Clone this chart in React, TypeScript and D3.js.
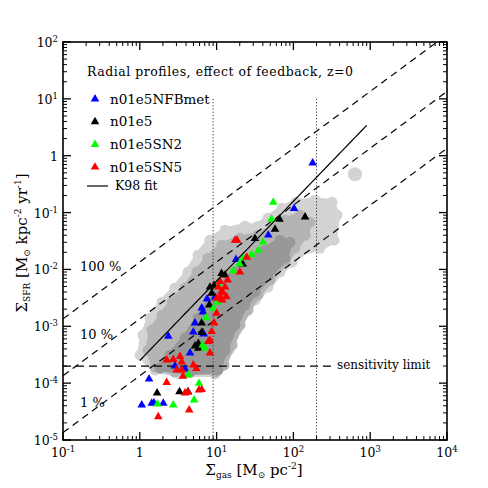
import React from 'react';
import * as d3 from 'd3';

const width = 488;
const height = 488;
const margin = { top: 42, right: 41, bottom: 48, left: 63 };
const font = '"DejaVu Serif", serif';

// axis decades
const xTickExps = [-1, 0, 1, 2, 3, 4];
const yTickExps = [-5, -4, -3, -2, -1, 0, 1, 2];

// [Σgas (Msun/pc^2), ΣSFR (Msun/kpc^2/yr)]
const nfbMet = [
  [178, 0.746], [102, 0.118], [47.1, 0.0401], [17.9, 0.015], [9.53, 0.00326],
  [7.5, 0.00301], [6.4, 0.00209], [6.65, 0.00178], [5.23, 0.00114], [4.97, 0.00079],
  [6.8, 0.00073], [2.35, 0.00067], [4.51, 0.000338], [2.87, 0.0002], [3.88, 0.000177],
  [1.32, 0.000118], [1.06, 0.0000412], [1.43, 0.0000442], [1.53, 0.000045], [2.02, 0.0000442],
];
const n01e5 = [
  [142, 0.0839], [65.9, 0.0766], [57.6, 0.051], [31.6, 0.0351], [21.9, 0.0124],
  [12.9, 0.00794], [11.6, 0.00851], [9.25, 0.0052], [8.2, 0.00489], [8.63, 0.0038],
  [8.04, 0.00236], [6.4, 0.00114], [6.4, 0.00078], [5.23, 0.000449], [5.78, 0.000409],
  [5.78, 0.0005], [1.68, 0.000067], [3.29, 0.0000705], [4.24, 0.000071],
];
const sn2 = [
  [54.7, 0.152], [51.9, 0.0766], [40.2, 0.0302], [34.9, 0.0215], [28.5, 0.0183],
  [22.3, 0.016], [19.8, 0.0126], [16.4, 0.00944], [10.8, 0.0051], [10.3, 0.00266],
  [9.06, 0.00205], [7.3, 0.00141], [7.06, 0.000409], [6.6, 0.00047], [4.28, 0.000139],
  [5.9, 0.000099], [5.1, 0.0000504], [2.73, 0.0000412], [1.7, 0.000043],
];
const sn5 = [
  [17.4, 0.0327], [18.5, 0.0327], [24.7, 0.0164], [20.1, 0.009], [13.9, 0.00649],
  [11.1, 0.0061], [11.6, 0.0041], [12.9, 0.00489], [10.5, 0.00489], [10.0, 0.0031],
  [13.4, 0.0033], [12.1, 0.0039], [11.1, 0.0033], [11.8, 0.0029], [10, 0.0017],
  [9.3, 0.00114], [8.63, 0.000805], [8.2, 0.000565], [7.8, 0.00054], [8.2, 0.00034],
  [2.24, 0.000255], [2.73, 0.00026], [3.34, 0.000294], [3.51, 0.000235], [4.97, 0.000208],
  [5.45, 0.00018], [3.51, 0.00017], [3.02, 0.00017], [3.65, 0.000132], [2.24, 0.000103],
  [3.88, 0.000067], [4.24, 0.000069], [5.9, 0.0000757], [6.4, 0.000077], [4.4, 0.0000337],
  [1.74, 0.0000256],
];

// observed gas distribution, three density levels (outer to inner)
const cloudLight = [
  [1.01, 3.1e-4], [1.1, 7.0e-4], [1.36, 1.39e-3], [1.95, 2.66e-3], [2.87, 4.7e-3],
  [4.24, 9.0e-3], [5.73, 0.0178], [8.2, 0.0327], [12.9, 0.0491], [23.4, 0.0577],
  [34.6, 0.0577], [46.7, 0.0798], [71, 0.119], [108, 0.152], [191, 0.165],
  [318, 0.152], [370, 0.09], [338, 0.0327], [222, 0.0237], [122, 0.0201],
  [96, 0.0134], [67, 0.009], [46.7, 0.0049], [31.6, 0.00289], [23.4, 0.00178],
  [18.4, 8.6e-4], [14.5, 3.8e-4], [11.7, 2.0e-4], [9.5, 1.45e-4], [3.34, 1.45e-4],
  [1.58, 1.7e-4],
];
const cloudMid = [
  [1.28, 3.8e-4], [1.44, 8.6e-4], [1.95, 1.57e-3], [2.63, 2.66e-3], [3.88, 4.7e-3],
  [5.56, 9.0e-3], [7.73, 0.0158], [11.7, 0.0267], [20.2, 0.0355], [34.6, 0.0401],
  [52.6, 0.0532], [78, 0.0735], [122, 0.09], [164, 0.0678], [142, 0.0401],
  [105, 0.0237], [78, 0.0134], [49.6, 0.0065], [34.6, 0.00353], [25.6, 0.00193],
  [20.2, 1.05e-3], [15.9, 4.7e-4], [12.5, 2.08e-4], [9.5, 1.57e-4], [2.87, 1.57e-4],
  [1.58, 1.92e-4],
];
const cloudDark = [
  [1.83, 1.84e-4], [2.47, 3.1e-4], [3.88, 6.2e-4], [5.73, 1.39e-3], [8.2, 2.89e-3],
  [11.7, 5.3e-3], [17.4, 9.0e-3], [27.2, 0.0146], [42.7, 0.0218], [67, 0.0327],
  [90, 0.0302], [78, 0.0158], [46.7, 7.6e-3], [31.6, 4.0e-3], [23.4, 2.36e-3],
  [17.4, 1.05e-3], [12.9, 3.8e-4], [10.4, 1.7e-4], [4.51, 1.57e-4],
];
const cloudBlobs = [[634, 0.473]];

// reference lines
const effLevels = [1, 0.1, 0.01];
const effLabels = ['100 %', '10 %', '1 %'];
const effLabelY = [0.0094, 0.00059, 0.000038];
const effNorm = 0.0135; // ΣSFR per Σgas at 100 % efficiency
const sensitivityLimit = 2e-4;
const sensitivityEnd = 330;
const resolutionLimits = [9, 200];
const k98 = { a: 2.5e-4, n: 1.4, from: 1, to: 900 };

const series = [
  { name: 'n01e5NFBmet', color: '#0000ff', data: nfbMet },
  { name: 'n01e5', color: '#000000', data: n01e5 },
  { name: 'n01e5SN2', color: '#00ff00', data: sn2 },
  { name: 'n01e5SN5', color: '#ff0000', data: sn5 },
];

const Pow10 = ({ exp, x, y, anchor }) => {
  if (exp === 0) {
    return <text x={x} y={y} textAnchor={anchor} fontSize={12.5} fontFamily={font}>1</text>;
  }
  return (
    <text x={x} y={y} textAnchor={anchor} fontSize={12.5} fontFamily={font}>
      10<tspan dy={-5} fontSize={8.5}>{exp}</tspan>
    </text>
  );
};

const App = () => {
  const x = d3.scaleLog().domain([0.1, 1e4]).range([margin.left, width - margin.right]);
  const y = d3.scaleLog().domain([1e-5, 100]).range([height - margin.bottom, margin.top]);
  const [x0, x1] = x.range();
  const [y0, y1] = y.range();

  const line = d3.line().x(d => x(d[0])).y(d => y(d[1]));
  const blob = d3.line().x(d => x(d[0])).y(d => y(d[1])).curve(d3.curveLinearClosed);
  const tri = d3.symbol().type(d3.symbolTriangle).size(32)();

  const minor = (exps) => {
    const out = [];
    exps.slice(0, -1).forEach(e => {
      for (let k = 2; k <= 9; k++) out.push(k * Math.pow(10, e));
    });
    return out;
  };
  const xMinor = minor(xTickExps);
  const yMinor = minor(yTickExps);

  const clouds = [
    { pts: cloudLight, color: '#d3d3d3' },
    { pts: cloudMid, color: '#b4b4b4' },
    { pts: cloudDark, color: '#989898' },
  ];

  return (
    <svg width={width} height={height} style={{ position: 'absolute', left: 0, top: 0, background: '#fff' }}>
      <defs>
        <clipPath id="plot">
          <rect x={x0} y={y1} width={x1 - x0} height={y0 - y1} />
        </clipPath>
      </defs>

      <g clipPath="url(#plot)">
        {clouds.map((c, i) => (
          <g key={i} fill={c.color}>
            <path d={blob(c.pts)} stroke={c.color} strokeWidth={6} strokeLinejoin="round" />
            {c.pts.map((d, j) => (
              <circle key={j} cx={x(d[0])} cy={y(d[1])} r={5.5} />
            ))}
          </g>
        ))}
        {cloudBlobs.map((d, i) => (
          <circle key={i} cx={x(d[0])} cy={y(d[1])} r={7} fill="#d3d3d3" />
        ))}

        {effLevels.map(e => (
          <path key={e} d={line([[0.1, 0.1 * e * effNorm], [1e4, 1e4 * e * effNorm]])}
            fill="none" stroke="#000" strokeWidth={1.2} strokeDasharray="7,5" />
        ))}
        <path d={line([[0.1, sensitivityLimit], [sensitivityEnd, sensitivityLimit]])}
          fill="none" stroke="#000" strokeWidth={1.2} strokeDasharray="8,5" />
        {resolutionLimits.map(v => (
          <path key={v} d={line([[v, 10], [v, 1e-5]])}
            fill="none" stroke="#333" strokeWidth={1} strokeDasharray="1.2,2" />
        ))}

        {series.map(s => (
          <g key={s.name}>
            {s.data.map((d, i) => (
              <path key={i} d={tri} fill={s.color}
                transform={`translate(${x(d[0])},${y(d[1])})`} />
            ))}
          </g>
        ))}

        <path d={line(d3.range(0, 41).map(i => {
          const g = k98.from * Math.pow(k98.to / k98.from, i / 40);
          return [g, k98.a * Math.pow(g, k98.n)];
        }))} fill="none" stroke="#000" strokeWidth={1.2} />
      </g>

      {/* frame and ticks */}
      <rect x={x0} y={y1} width={x1 - x0} height={y0 - y1} fill="none" stroke="#000" strokeWidth={1.6} />
      {xTickExps.map(e => {
        const px = x(Math.pow(10, e));
        return (
          <g key={e}>
            <line x1={px} x2={px} y1={y0} y2={y0 - 8} stroke="#000" strokeWidth={1.3} />
            <line x1={px} x2={px} y1={y1} y2={y1 + 8} stroke="#000" strokeWidth={1.3} />
            <Pow10 exp={e} x={px} y={y0 + 17} anchor="middle" />
          </g>
        );
      })}
      {xMinor.map(v => (
        <g key={v}>
          <line x1={x(v)} x2={x(v)} y1={y0} y2={y0 - 4} stroke="#000" strokeWidth={1} />
          <line x1={x(v)} x2={x(v)} y1={y1} y2={y1 + 4} stroke="#000" strokeWidth={1} />
        </g>
      ))}
      {yTickExps.map(e => {
        const py = y(Math.pow(10, e));
        return (
          <g key={e}>
            <line x1={x0} x2={x0 + 8} y1={py} y2={py} stroke="#000" strokeWidth={1.3} />
            <line x1={x1} x2={x1 - 8} y1={py} y2={py} stroke="#000" strokeWidth={1.3} />
            <Pow10 exp={e} x={x0 - 5} y={py + 5} anchor="end" />
          </g>
        );
      })}
      {yMinor.map(v => (
        <g key={v}>
          <line x1={x0} x2={x0 + 4} y1={y(v)} y2={y(v)} stroke="#000" strokeWidth={1} />
          <line x1={x1} x2={x1 - 4} y1={y(v)} y2={y(v)} stroke="#000" strokeWidth={1} />
        </g>
      ))}

      {/* annotations */}
      {effLabels.map((t, i) => (
        <text key={t} x={80} y={y(effLabelY[i])} fontSize={13} fontFamily={font}>{t}</text>
      ))}
      <text x={337} y={369} fontSize={12} fontFamily={font}>sensitivity limit</text>

      {/* legend */}
      <text x={87} y={76} fontSize={12.5} fontFamily={font} textLength={266}>Radial profiles, effect of feedback, z=0</text>
      {series.map((s, i) => (
        <g key={s.name} transform={`translate(95,${99 + i * 22.7})`}>
          <path d={tri} fill={s.color} />
          <text x={15} y={4.5} fontSize={13.5} fontFamily={font}>{s.name}</text>
        </g>
      ))}
      <line x1={87} x2={108} y1={186} y2={186} stroke="#000" strokeWidth={1.2} />
      <text x={115} y={190} fontSize={12.5} fontFamily={font}>K98 fit</text>

      {/* axis titles */}
      <text x={254} y={475} textAnchor="middle" fontSize={15} fontFamily={font}>
        Σ<tspan fontSize={9} dy={3}>gas</tspan>
        <tspan dy={-3}> [M</tspan><tspan fontSize={9} dy={3}>⊙</tspan>
        <tspan dy={-3}> pc</tspan><tspan fontSize={9} dy={-6}>-2</tspan>
        <tspan dy={6}>]</tspan>
      </text>
      <text transform={`translate(27,243) rotate(-90)`} textAnchor="middle" fontSize={15} fontFamily={font}>
        Σ<tspan fontSize={9} dy={3}>SFR</tspan>
        <tspan dy={-3}> [M</tspan><tspan fontSize={9} dy={3}>⊙</tspan>
        <tspan dy={-3}> kpc</tspan><tspan fontSize={9} dy={-6}>-2</tspan>
        <tspan dy={6}> yr</tspan><tspan fontSize={9} dy={-6}>-1</tspan>
        <tspan dy={6}>]</tspan>
      </text>
    </svg>
  );
};

export default App;
